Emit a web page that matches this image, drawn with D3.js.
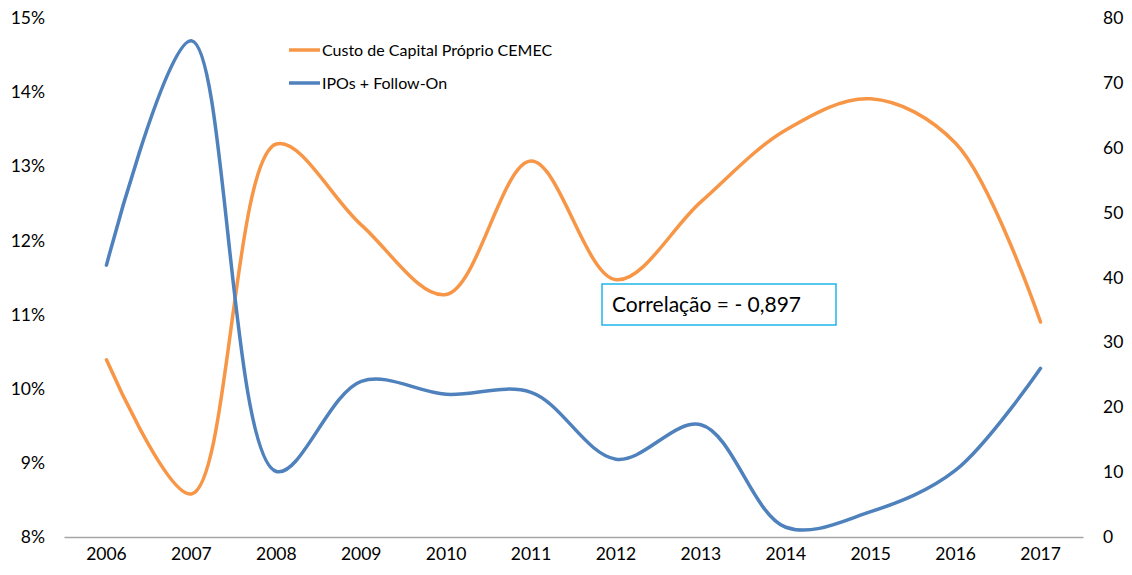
<!DOCTYPE html>
<html>
<head>
<meta charset="utf-8">
<script src="https://cdn.jsdelivr.net/npm/d3@7"></script>
<style>
  body { margin: 0; background: #fff; }
  svg { font-family: Lato, "Open Sans", sans-serif; }
  .axis text { fill: #000; }
</style>
</head>
<body>
<div id="chart"></div>
<script>
w = 1132;
h = 575;

// data
years = ['2006', '2007', '2008', '2009', '2010', '2011', '2012', '2013', '2014', '2015', '2016', '2017'];
custoCapital = [10.39, 8.58, 13.3, 12.21, 11.27, 13.07, 11.47, 12.52, 13.49, 13.91, 13.31, 10.90]; // %
ipos = [41.9, 76.5, 10.1, 24.0, 22.0, 22.3, 12.0, 17.3, 1.5, 3.9, 10.3, 26.0];
leftTicks = [8, 9, 10, 11, 12, 13, 14, 15];
rightTicks = [0, 10, 20, 30, 40, 50, 60, 70, 80];
seriesNames = ['Custo de Capital Próprio CEMEC', 'IPOs + Follow-On'];
seriesColors = ['#F79646', '#4F81BD'];
correlText = 'Correlação = - 0,897';

var svg = d3.select('#chart').append('svg')
	.attr('width', w)
	.attr('height', h);

xScale = d3.scaleBand()
	.domain(years)
	.range([64, 1083])
	.padding(0);
yLeft = d3.scaleLinear().domain([8, 15]).range([537, 18]);
yRight = d3.scaleLinear().domain([0, 80]).range([537, 18]);

function xc(d) { return xScale(d) + xScale.bandwidth() / 2; }

// left axis (no line, no ticks)
var yLeftG = svg.append('g')
	.attr('class', 'axis')
	.attr('transform', 'translate(52,0)')
	.call(d3.axisLeft(yLeft).tickValues(leftTicks).tickSize(0).tickPadding(7)
		.tickFormat(function(d) { return d + '%'; }));
yLeftG.select('.domain').remove();

var yRightG = svg.append('g')
	.attr('class', 'axis')
	.attr('transform', 'translate(1096,0)')
	.call(d3.axisRight(yRight).tickValues(rightTicks).tickSize(0).tickPadding(7));
yRightG.select('.domain').remove();

var xAxisG = svg.append('g')
	.attr('class', 'axis')
	.attr('transform', 'translate(0,537)')
	.call(d3.axisBottom(xScale).tickSize(0).tickSizeOuter(0).tickPadding(11));
xAxisG.select('.domain').attr('stroke', '#a6a6a6').attr('stroke-width', 1.3);

svg.selectAll('.axis text')
	.attr('font-size', '17.5px')
	.attr('font-family', 'Lato, sans-serif');

// smoothed lines like excel
var lineLeft = d3.line()
	.x(function(d, i) { return xc(years[i]); })
	.y(function(d) { return yLeft(d); })
	.curve(d3.curveCatmullRom.alpha(0.5));
var lineRight = d3.line()
	.x(function(d, i) { return xc(years[i]); })
	.y(function(d) { return yRight(d); })
	.curve(d3.curveCatmullRom.alpha(0.5));

svg.append('path')
	.datum(custoCapital)
	.attr('d', lineLeft)
	.attr('fill', 'none')
	.attr('stroke', seriesColors[0])
	.attr('stroke-width', 3.5)
	.attr('stroke-linecap', 'round');

svg.append('path')
	.datum(ipos)
	.attr('d', lineRight)
	.attr('fill', 'none')
	.attr('stroke', seriesColors[1])
	.attr('stroke-width', 3.5)
	.attr('stroke-linecap', 'round');

// legend
var legend = svg.selectAll('.legendItem').data(seriesNames)
	.enter().append('g')
	.attr('class', 'legendItem')
	.attr('transform', function(d, i) { return 'translate(289,' + (50 + i * 33) + ')'; });
legend.append('line')
	.attr('x1', 0).attr('x2', 31)
	.attr('stroke', function(d, i) { return seriesColors[i]; })
	.attr('stroke-width', 3.5);
legend.append('text')
	.attr('x', 33)
	.attr('dy', '0.35em')
	.attr('font-size', '16px')
	.attr('fill', '#000')
	.text(function(d) { return d; });

// correlation box
svg.append('rect')
	.attr('x', 602).attr('y', 284)
	.attr('width', 234).attr('height', 41)
	.attr('fill', '#fff')
	.attr('stroke', '#1FB5EA')
	.attr('stroke-width', 1.5);
svg.append('text')
	.attr('x', 612).attr('y', 312)
	.attr('font-size', '21px')
	.attr('fill', '#000')
	.text(correlText);
</script>
</body>
</html>
